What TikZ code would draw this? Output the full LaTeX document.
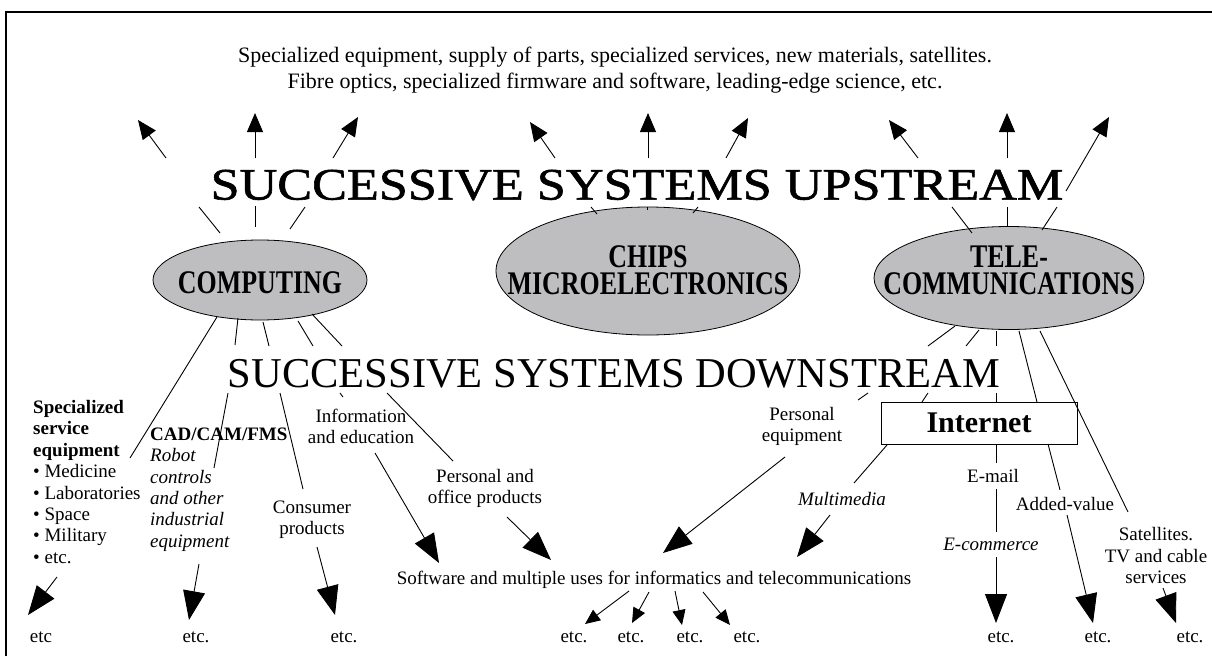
\documentclass[tikz,border=0pt]{standalone}
\usepackage{fontspec}
\setmainfont{Liberation Serif}
\newfontfamily\condfont[FakeStretch=0.785]{Liberation Serif}
\newfontfamily\widefont[FakeStretch=1.16,FakeBold=1.3]{Liberation Serif}
\usetikzlibrary{arrows.meta,shapes.geometric}
\definecolor{ellgray}{RGB}{190,190,193}
\begin{document}
\begin{tikzpicture}[x=1pt,y=-1pt,
  ln/.style={line width=0.9pt},
  bigarr/.style={ln,-{Triangle[length=29pt,width=22pt]}},
  uparr/.style={ln,-{Triangle[length=19pt,width=16pt]}},
  smallarr/.style={ln,-{Triangle[length=15pt,width=13pt]}},
  ell/.style={ellipse,draw,fill=ellgray,line width=0.8pt,inner sep=0},
  txt/.style={inner sep=0,font=\fontsize{19}{21.4}\selectfont},
  elltxt/.style={inner sep=0,align=center,font=\condfont\bfseries\fontsize{33}{27}\selectfont},
]
\useasboundingbox (0,0) rectangle (1212,656);
\draw[line width=1.6pt] (6,656) -- (6,12) -- (1212,12);

% top text
\node[txt,align=center,font=\fontsize{22}{26}\selectfont] (top) at (615,70)
 {Specialized equipment, supply of parts, specialized services, new materials, satellites.\\
  Fibre optics, specialized firmware and software, leading-edge science, etc.};
\node[inner sep=0,font=\widefont\fontsize{45}{45}\selectfont] (up) at (637,185) {SUCCESSIVE SYSTEMS UPSTREAM};
\node[inner sep=0,font=\fontsize{42.5}{42.5}\selectfont] (down) at (614,374) {SUCCESSIVE SYSTEMS DOWNSTREAM};

% ellipses
\node[ell,minimum width=214pt,minimum height=80pt] (comp) at (260,280) {};
\node[elltxt] (compt) at (260,283) {COMPUTING};
\node[ell,minimum width=304pt,minimum height=128pt] (chips) at (648,271) {};
\node[elltxt] (chipst) at (648,270) {CHIPS\\MICROELECTRONICS};
\node[ell,minimum width=270pt,minimum height=103pt] (tele) at (1009,278) {};
\node[elltxt] (telet) at (1009,270) {TELE-\\COMMUNICATIONS};

\node[draw,line width=0.9pt,minimum width=196pt,minimum height=42pt,inner sep=0,
  font=\bfseries\fontsize{30}{30}\selectfont] (inet) at (979,423) {Internet};

% labels
\node[txt,align=left,anchor=west] (spec) at (33,482)
 {\textbf{Specialized}\\\textbf{service}\\\textbf{equipment}\\%
  • Medicine\\• Laboratories\\• Space\\• Military\\• etc.};
\node[txt,align=left,anchor=west] (cad) at (150,489.5)
 {\textbf{CAD/CAM/FMS}\\\textit{Robot}\\\textit{controls}\\\textit{and other}\\\textit{industrial}\\\textit{equipment}};
\node[txt,align=center] (cons) at (312,520) {Consumer\\products};
\node[txt,align=center] (info) at (361,426.5) {Information\\and education};
\node[txt,align=center] (pers) at (485,488.5) {Personal and\\office products};
\node[txt,align=center] (peq) at (802,426.5) {Personal\\equipment};
\node[txt,font=\itshape\fontsize{19}{21.4}\selectfont] (mm) at (842,499) {Multimedia};
\node[txt] (email) at (993,476) {E-mail};
\node[txt,font=\itshape\fontsize{19}{21.4}\selectfont] (ecom) at (991,544) {E-commerce};
\node[txt] (added) at (1065,504) {Added-value};
\node[txt,align=center] (sat) at (1156,555.7) {Satellites.\\TV and cable\\services};
\node[txt] (soft) at (654,580) {Software and multiple uses for informatics and telecommunications};

\node[txt] (e0) at (41,637) {etc};
\node[txt] (e1) at (196,637) {etc.};
\node[txt] (e2) at (344,637) {etc.};
\node[txt] (e3) at (574,637) {etc.};
\node[txt] (e4) at (631,637) {etc.};
\node[txt] (e5) at (690,637) {etc.};
\node[txt] (e6) at (747,637) {etc.};
\node[txt] (e7) at (1001,637) {etc.};
\node[txt] (e8) at (1098,637) {etc.};
\node[txt] (e9) at (1190,637) {etc.};

% upstream lines
\coordinate (u1a) at (220,233); \coordinate (u1b) at (199,207); \coordinate (u1c) at (166,158); \coordinate (u1t) at (138,120);
\coordinate (u2a) at (255,227); \coordinate (u2b) at (255,206); \coordinate (u2c) at (255,158); \coordinate (u2t) at (255,113);
\coordinate (u3a) at (290,229); \coordinate (u3b) at (305,207); \coordinate (u3c) at (333,158); \coordinate (u3t) at (358,117);
\coordinate (u4a) at (597,214); \coordinate (u4b) at (591,207); \coordinate (u4c) at (555,158); \coordinate (u4t) at (530,122);
\coordinate (u5a) at (647,210); \coordinate (u5b) at (647,207); \coordinate (u5c) at (648,158); \coordinate (u5t) at (648,113);
\coordinate (u6a) at (693,213); \coordinate (u6b) at (698,207); \coordinate (u6c) at (726,158); \coordinate (u6t) at (748,118);
\coordinate (u7a) at (972,233); \coordinate (u7b) at (952,207); \coordinate (u7c) at (918,158); \coordinate (u7t) at (889,120);
\coordinate (u8a) at (1007,226); \coordinate (u8b) at (1007,207); \coordinate (u8c) at (1007,158); \coordinate (u8t) at (1007,113);
\coordinate (u9a) at (1042,230); \coordinate (u9b) at (1057,207); \coordinate (u9c) at (1066,191); \coordinate (u9t) at (1109,117);
\foreach \i in {1,...,9}{
  \draw[ln] (u\i a) -- (u\i b);
  \draw[uparr] (u\i c) -- (u\i t);
}

% downstream from computing
\coordinate (d1a) at (217,317); \coordinate (d1b) at (130,458);
\draw[ln] (d1a) -- (d1b);
\coordinate (d2a) at (238,318); \coordinate (d2b) at (235,345); \coordinate (d2c) at (228,393); \coordinate (d2d) at (214,468);
\coordinate (d3a) at (263,322); \coordinate (d3b) at (269,346); \coordinate (d3c) at (280,393); \coordinate (d3d) at (303,489);
\coordinate (d4a) at (298,321); \coordinate (d4b) at (313,346); \coordinate (d4c) at (340,393); \coordinate (d4d) at (343,397);
\coordinate (d5a) at (312,314); \coordinate (d5b) at (342,346); \coordinate (d5c) at (387,393); \coordinate (d5d) at (453,461);
\foreach \i in {2,...,5}{
  \draw[ln] (d\i a) -- (d\i b);
  \draw[ln] (d\i c) -- (d\i d);
}

% downstream from telecommunications
\coordinate (t1a) at (955,326); \coordinate (t1b) at (928,346); \coordinate (t1c) at (868,393); \coordinate (t1d) at (858,400);
\coordinate (t2a) at (979,330); \coordinate (t2b) at (966,346); \coordinate (t2c) at (928,393); \coordinate (t2d) at (922,402);
\coordinate (t3a) at (996,331); \coordinate (t3b) at (996,346); \coordinate (t3c) at (996,393); \coordinate (t3d) at (996,402);
\foreach \i in {1,2,3}{
  \draw[ln] (t\i a) -- (t\i b);
  \draw[ln] (t\i c) -- (t\i d);
}
\coordinate (t4a) at (1019,331); \coordinate (t4b) at (1037,402); \coordinate (t4c) at (1048,444); \coordinate (t4d) at (1060,490);
\draw[ln] (t4a) -- (t4b); \draw[ln] (t4c) -- (t4d);
\coordinate (t5a) at (1040,331); \coordinate (t5b) at (1128,512);
\draw[ln] (t5a) -- (t5b);

% from internet
\coordinate (i1a) at (887,445); \coordinate (i1b) at (854,483);
\draw[ln] (i1a) -- (i1b);
\coordinate (i2a) at (996,445); \coordinate (i2b) at (996,463);
\coordinate (i2c) at (996,489); \coordinate (i2d) at (996,532);
\coordinate (i2e) at (996,557); \coordinate (i2t) at (996,623);
\draw[ln] (i2a) -- (i2b); \draw[ln] (i2c) -- (i2d); \draw[bigarr] (i2e) -- (i2t);

% big arrows
\coordinate (a1s) at (1067,515); \coordinate (a1t) at (1093,623); \draw[bigarr] (a1s) -- (a1t);
\coordinate (a2s) at (1163,588); \coordinate (a2t) at (1176,623); \draw[bigarr] (a2s) -- (a2t);
\coordinate (a3s) at (830,515); \coordinate (a3t) at (797,557); \draw[bigarr] (a3s) -- (a3t);
\coordinate (a4s) at (785,457); \coordinate (a4t) at (663,553); \draw[bigarr] (a4s) -- (a4t);
\coordinate (a5s) at (375,453); \coordinate (a5t) at (439,563); \draw[bigarr] (a5s) -- (a5t);
\coordinate (a6s) at (507,517); \coordinate (a6t) at (551,560); \draw[bigarr] (a6s) -- (a6t);
\coordinate (a7s) at (57,577); \coordinate (a7t) at (28,615); \draw[bigarr] (a7s) -- (a7t);
\coordinate (a8s) at (199,564); \coordinate (a8t) at (189,620); \draw[bigarr] (a8s) -- (a8t);
\coordinate (a9s) at (317,547); \coordinate (a9t) at (335,615); \draw[bigarr] (a9s) -- (a9t);

% small arrows
\coordinate (s1s) at (629,591); \coordinate (s1t) at (585,624); \draw[smallarr] (s1s) -- (s1t);
\coordinate (s2s) at (649,592); \coordinate (s2t) at (632,623); \draw[smallarr] (s2s) -- (s2t);
\coordinate (s3s) at (675,591); \coordinate (s3t) at (682,625); \draw[smallarr] (s3s) -- (s3t);
\coordinate (s4s) at (703,592); \coordinate (s4t) at (730,625); \draw[smallarr] (s4s) -- (s4t);
\end{tikzpicture}
\end{document}
